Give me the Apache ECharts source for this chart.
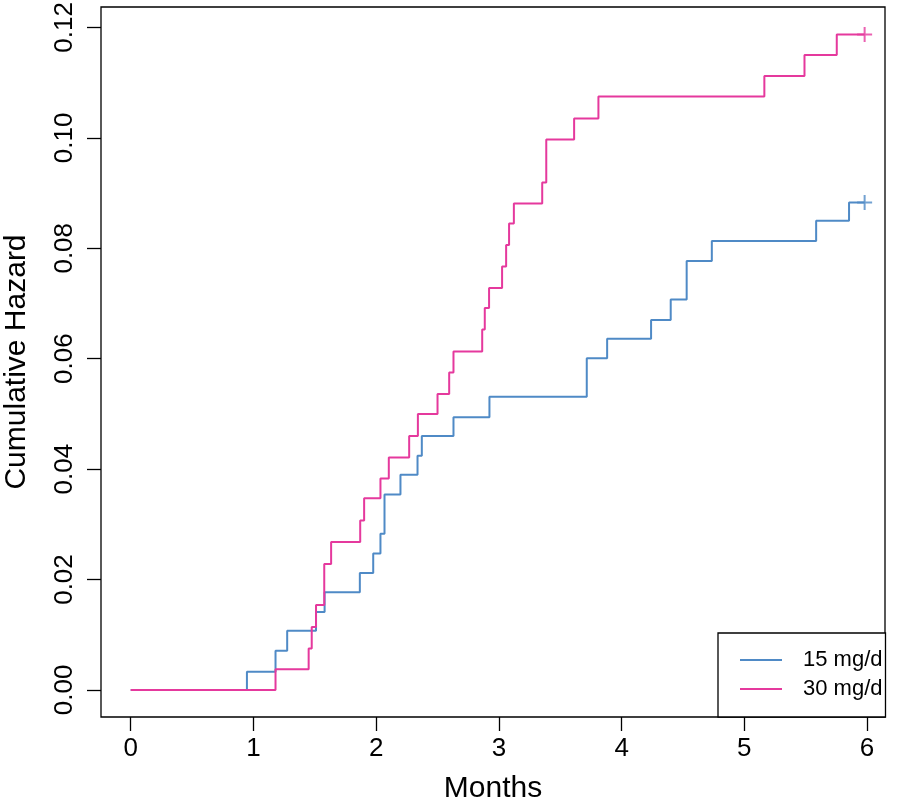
<!DOCTYPE html>
<html>
<head>
<meta charset="utf-8">
<script src="https://cdn.jsdelivr.net/npm/echarts@6/dist/echarts.min.js"></script>
<style>
html,body{margin:0;padding:0;background:#fff;}
#c{width:898px;height:806px;}
</style>
</head>
<body>
<div id="c"></div>
<script>
// Data
var months15 = [0, 0.947, 1.18, 1.275, 1.51, 1.58, 1.867, 1.976, 2.035, 2.068, 2.198, 2.337, 2.372, 2.63, 2.923, 3.716, 3.882, 4.24, 4.40, 4.53, 4.735, 5.585, 5.853, 5.98];
var hazard15 = [0, 0.0033, 0.0071, 0.0107, 0.0141, 0.0177, 0.0212, 0.0247, 0.0283, 0.0354, 0.0390, 0.0424, 0.0460, 0.0494, 0.0531, 0.0601, 0.0636, 0.0670, 0.0707, 0.0777, 0.0813, 0.0850, 0.0883, 0.0883];
var months30 = [0, 1.18, 1.45, 1.475, 1.51, 1.577, 1.633, 1.87, 1.902, 2.035, 2.103, 2.269, 2.34, 2.5, 2.595, 2.63, 2.864, 2.885, 2.92, 3.026, 3.059, 3.083, 3.122, 3.353, 3.386, 3.613, 3.811, 5.163, 5.49, 5.753, 5.98];
var hazard30 = [0, 0.00375, 0.0075, 0.0114, 0.0154, 0.0228, 0.0268, 0.0307, 0.0347, 0.0383, 0.0421, 0.0460, 0.0500, 0.0536, 0.0575, 0.0613, 0.0653, 0.0692, 0.0728, 0.0767, 0.0806, 0.0845, 0.0881, 0.0919, 0.0997, 0.1035, 0.1075, 0.1112, 0.1150, 0.1187, 0.1187];
var censor15 = [[5.98, 0.0883]];
var censor30 = [[5.98, 0.1187]];
var xTicks = [0, 1, 2, 3, 4, 5, 6];
var yTicks = [0, 0.02, 0.04, 0.06, 0.08, 0.10, 0.12];
var seriesNames = ['15 mg/d', '30 mg/d'];

var colors = ['#4f8ac6', '#e5399d'];
function pairs(xs, ys) { return xs.map(function (x, i) { return [x, ys[i]]; }); }
var plusPath = 'path://M0,6.5 H15 V8.5 H0 Z M6.5,0 H8.5 V15 H6.5 Z';
var font = 'Liberation Sans, Arial, sans-serif';

var chart = echarts.init(document.getElementById('c'), null, { renderer: 'canvas' });
chart.setOption({
  backgroundColor: '#ffffff',
  animation: false,
  grid: {
    left: 101, right: 13, top: 7, bottom: 89,
    containLabel: false, outerBoundsMode: 'none',
    show: true, borderColor: '#000', borderWidth: 1.3, backgroundColor: 'transparent'
  },
  xAxis: {
    type: 'value', min: -0.242, max: 6.146,
    name: 'Months', nameLocation: 'middle', nameGap: 57,
    nameTextStyle: { fontFamily: font, fontSize: 30, color: '#000' },
    axisLine: { show: false, onZero: false },
    splitLine: { show: false },
    axisTick: { show: true, inside: false, length: 14, customValues: xTicks, lineStyle: { color: '#000', width: 1.3 } },
    axisLabel: { customValues: xTicks, margin: 19, fontFamily: font, fontSize: 26, color: '#000' }
  },
  yAxis: {
    type: 'value', min: -0.0049, max: 0.1237,
    name: 'Cumulative Hazard', nameLocation: 'middle', nameGap: 69, nameRotate: 90,
    nameTextStyle: { fontFamily: font, fontSize: 30, color: '#000' },
    axisLine: { show: false, onZero: false },
    splitLine: { show: false },
    axisTick: { show: true, inside: false, length: 14, customValues: yTicks, lineStyle: { color: '#000', width: 1.3 } },
    axisLabel: { customValues: yTicks, rotate: 90, margin: 23, fontFamily: font, fontSize: 26, color: '#000',
      formatter: function (v) { return v.toFixed(2); } }
  },
  legend: {
    orient: 'vertical', left: 718, top: 633,
    padding: [16, 3, 17, 22], itemGap: 7,
    itemWidth: 42, itemHeight: 2, icon: 'rect',
    backgroundColor: '#fff', borderColor: '#000', borderWidth: 1.3,
    textStyle: { fontFamily: font, fontSize: 22, color: '#000', lineHeight: 22, padding: [0, 0, 0, 16] },
    data: [{ name: seriesNames[0], itemStyle: { color: colors[0] } }, { name: seriesNames[1], itemStyle: { color: colors[1] } }]
  },
  series: [
    { name: seriesNames[0], type: 'line', step: 'end', data: pairs(months15, hazard15), showSymbol: false, symbol: 'none',
      lineStyle: { color: colors[0], width: 2 }, itemStyle: { color: colors[0] }, z: 3 },
    { name: seriesNames[1], type: 'line', step: 'end', data: pairs(months30, hazard30), showSymbol: false, symbol: 'none',
      lineStyle: { color: colors[1], width: 2 }, itemStyle: { color: colors[1] }, z: 4 },
    { name: seriesNames[0], type: 'scatter', data: censor15, symbol: plusPath, symbolSize: 15, itemStyle: { color: colors[0] }, z: 5 },
    { name: seriesNames[1], type: 'scatter', data: censor30, symbol: plusPath, symbolSize: 15, itemStyle: { color: colors[1] }, z: 5 }
  ]
});
</script>
</body>
</html>
